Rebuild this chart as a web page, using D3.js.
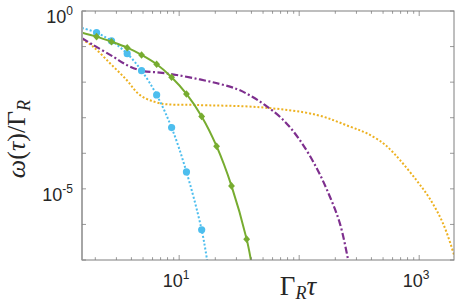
<!DOCTYPE html>
<html>
<head>
<meta charset="utf-8">
<script src="https://cdn.jsdelivr.net/npm/d3@7"></script>
<style>
  body { margin: 0; background: #fff; }
  svg { display: block; }
  .tick-label { font-family: "Liberation Sans", Arial, sans-serif; fill: #262626; }
  .axis-label { font-family: "Liberation Serif", "DejaVu Serif", serif; fill: #262626; }
</style>
</head>
<body>
<div id="chart"></div>
<script>
// values (x = Gamma_R tau, y = omega(tau)/Gamma_R)
var blueX = [1.55, 2.05, 2.73, 3.69, 4.86, 6.49, 8.65, 11.5, 15.4, 17.1, 17.7];
var blueY = [0.333, 0.246, 0.144, 0.0632, 0.0210, 0.00437, 5.27e-4, 3.0e-5, 7.05e-7, 1.0e-7, 5.3e-8];
var blueMarkX = [2.05, 2.73, 3.69, 4.86, 6.49, 8.65, 11.5, 15.4];
var blueMarkY = [0.246, 0.144, 0.0632, 0.0210, 0.00437, 5.27e-4, 3.0e-5, 7.05e-7];

var greenX = [1.55, 2.05, 2.73, 3.69, 4.86, 6.49, 8.65, 11.5, 15.4, 20.5, 27.3, 36.5, 39.6, 41.1];
var greenY = [0.246, 0.190, 0.137, 0.0931, 0.0581, 0.0318, 0.01374, 0.00466, 0.00109, 1.58e-4, 1.21e-5, 3.86e-7, 1.0e-7, 4.66e-8];
var greenMarkX = [2.05, 2.73, 3.69, 4.86, 6.49, 8.65, 11.5, 15.4, 20.5, 27.3, 36.5];
var greenMarkY = [0.190, 0.137, 0.0931, 0.0581, 0.0318, 0.01374, 0.00466, 0.00109, 1.58e-4, 1.21e-5, 3.86e-7];

var purpleX = [1.55, 1.92, 2.82, 3.65, 4.86, 6.90, 9.51, 14.88, 21.8, 30.1, 38.8, 51.7, 73.6, 101, 140, 180, 218, 256, 275];
var purpleY = [0.171, 0.111, 0.052, 0.0304, 0.0210, 0.0185, 0.0159, 0.01191, 0.00890, 0.00644, 0.00423, 0.00229, 8.67e-4, 2.38e-4, 3.81e-5, 6.08e-6, 1.09e-6, 1.0e-7, 2.78e-8];

var orangeX = [1.55, 1.92, 2.65, 3.65, 4.70, 6.90, 13.1, 47.0, 140, 265, 365, 501, 589, 690, 951, 1228, 1585, 1972, 2183];
var orangeY = [0.160, 0.0994, 0.0340, 0.0115, 0.00437, 0.00255, 0.00229, 0.00197, 0.0012, 5.62e-4, 3.67e-4, 1.92e-4, 1.17e-4, 6.53e-5, 1.73e-5, 5.24e-6, 1.04e-6, 1.25e-7, 3.84e-8];

var xMajor = [10, 100, 1000];
var xLabelled = [10, 1000];
var yMajor = [1, 1e-1, 1e-2, 1e-3, 1e-4, 1e-5, 1e-6, 1e-7];
var yLabelled = [1, 1e-5];

var W = 457, H = 304;
var pL = 82, pR = 454, pT = 11, pB = 260;

var svg = d3.select("#chart").append("svg")
  .attr("width", W).attr("height", H);

var x = d3.scaleLog().domain([1.55, 1950]).range([pL, pR]);
var y = d3.scaleLog().domain([1e-7, 1]).range([pB, pT]);

function zip(xs, ys) { return xs.map(function(v, i) { return [v, ys[i]]; }); }

svg.append("clipPath").attr("id", "clip")
  .append("rect").attr("x", pL).attr("y", pT)
  .attr("width", pR - pL).attr("height", pB - pT);

var line = d3.line()
  .x(function(d) { return x(d[0]); })
  .y(function(d) { return y(d[1]); })
  .curve(d3.curveCatmullRom.alpha(0.5));

var plot = svg.append("g").attr("clip-path", "url(#clip)");

plot.append("path").datum(zip(orangeX, orangeY))
  .attr("fill", "none").attr("stroke", "#EDB120")
  .attr("stroke-width", 2).attr("stroke-dasharray", "2,2")
  .attr("d", line);

plot.append("path").datum(zip(purpleX, purpleY))
  .attr("fill", "none").attr("stroke", "#7E2F8E")
  .attr("stroke-width", 2.2).attr("stroke-dasharray", "7,2.5,2,2.5")
  .attr("d", line);

plot.append("path").datum(zip(blueX, blueY))
  .attr("fill", "none").attr("stroke", "#4DBEEE")
  .attr("stroke-width", 2).attr("stroke-dasharray", "2,2")
  .attr("d", line);

plot.selectAll(".bm").data(zip(blueMarkX, blueMarkY)).enter()
  .append("circle").attr("class", "bm")
  .attr("cx", function(d) { return x(d[0]); })
  .attr("cy", function(d) { return y(d[1]); })
  .attr("r", 3.6).attr("fill", "#4DBEEE");

plot.append("path").datum(zip(greenX, greenY))
  .attr("fill", "none").attr("stroke", "#77AC30")
  .attr("stroke-width", 2)
  .attr("d", line);

plot.selectAll(".gm").data(zip(greenMarkX, greenMarkY)).enter()
  .append("path").attr("class", "gm")
  .attr("transform", function(d) { return "translate(" + x(d[0]) + "," + y(d[1]) + ")"; })
  .attr("d", "M0,-3.8L3.4,0L0,3.8L-3.4,0Z")
  .attr("fill", "#77AC30");

// box and ticks
var axisCol = "#7f7f7f";
svg.append("rect").attr("x", pL).attr("y", pT)
  .attr("width", pR - pL).attr("height", pB - pT)
  .attr("fill", "none").attr("stroke", axisCol).attr("stroke-width", 1);
svg.append("line").attr("x1", pL).attr("x2", pL).attr("y1", pT).attr("y2", pB)
  .attr("stroke", "#a6a6a6").attr("stroke-width", 2);

var xTicks = x.ticks();
var ticks = svg.append("g").attr("stroke", axisCol).attr("stroke-width", 0.8);
xTicks.forEach(function(t) {
  var len = xMajor.indexOf(t) >= 0 ? 5 : 2.8;
  var px = x(t);
  ticks.append("line").attr("x1", px).attr("x2", px).attr("y1", pB).attr("y2", pB - len);
  ticks.append("line").attr("x1", px).attr("x2", px).attr("y1", pT).attr("y2", pT + len);
});
yMajor.forEach(function(t) {
  var py = y(t);
  ticks.append("line").attr("x1", pL).attr("x2", pL + 4).attr("y1", py).attr("y2", py);
  ticks.append("line").attr("x1", pR).attr("x2", pR - 4).attr("y1", py).attr("y2", py);
});

function expLabel(g, base, exp) {
  g.append("tspan").text(base);
  g.append("tspan").attr("font-size", 12).attr("dy", -8).text(exp);
}

xLabelled.forEach(function(t) {
  var g = svg.append("text").attr("class", "tick-label")
    .attr("x", x(t) - 3).attr("y", 287)
    .attr("text-anchor", "middle").attr("font-size", 18);
  expLabel(g, "10", Math.round(Math.log10(t)));
});
yLabelled.forEach(function(t) {
  var g = svg.append("text").attr("class", "tick-label")
    .attr("x", 73).attr("y", y(t) + 12)
    .attr("text-anchor", "end").attr("font-size", 18);
  expLabel(g, "10", Math.round(Math.log10(t)));
});

// axis titles
var xt = svg.append("text").attr("class", "axis-label")
  .attr("x", 298).attr("y", 295).attr("text-anchor", "middle").attr("font-size", 27);
xt.append("tspan").text("Γ");
xt.append("tspan").attr("font-style", "italic").attr("font-size", 18).attr("dy", 4).text("R");
xt.append("tspan").attr("font-style", "italic").attr("dy", -4).text("τ");

var yt = svg.append("text").attr("class", "axis-label")
  .attr("transform", "translate(25,139) rotate(-90)")
  .attr("text-anchor", "middle").attr("font-size", 26);
yt.append("tspan").attr("font-style", "italic").text("ω");
yt.append("tspan").text("(");
yt.append("tspan").attr("font-style", "italic").text("τ");
yt.append("tspan").text(")/Γ");
yt.append("tspan").attr("font-style", "italic").attr("font-size", 18).attr("dy", 5).text("R");
</script>
</body>
</html>
